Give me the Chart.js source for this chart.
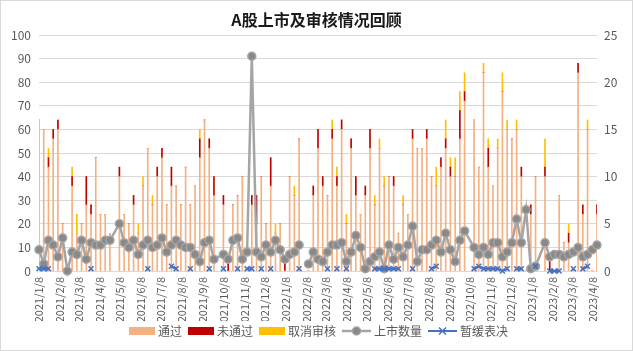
<!DOCTYPE html>
<html>
<head>
<meta charset="utf-8">
<script src="https://cdn.jsdelivr.net/npm/chart.js@4.4.0/dist/chart.umd.min.js"></script>
<style>
  html, body { margin: 0; padding: 0; background: #fff; }
</style>
</head>
<body>
<canvas id="c" width="633" height="351"></canvas>
<script>
// weekly rows (holiday weeks that have no row are simply missing)
const weeks = [
  '2021/1/8','2021/1/15','2021/1/22','2021/1/29','2021/2/5','2021/2/12','2021/2/19','2021/2/26',
  '2021/3/5','2021/3/12','2021/3/19','2021/3/26','2021/4/2','2021/4/9','2021/4/16','2021/4/23',
  '2021/5/7','2021/5/14','2021/5/21','2021/5/28','2021/6/4','2021/6/11','2021/6/18','2021/6/25',
  '2021/7/2','2021/7/9','2021/7/16','2021/7/23','2021/7/30','2021/8/6','2021/8/13','2021/8/20','2021/8/27',
  '2021/9/3','2021/9/10','2021/9/17','2021/9/24',
  '2021/10/8','2021/10/15','2021/10/22','2021/10/29','2021/11/5','2021/11/12','2021/11/19','2021/11/26',
  '2021/12/3','2021/12/10','2021/12/17','2021/12/24','2021/12/31',
  '2022/1/7','2022/1/14','2022/1/21','2022/1/28','2022/2/4','2022/2/11','2022/2/18','2022/2/25',
  '2022/3/4','2022/3/11','2022/3/18','2022/3/25','2022/4/1','2022/4/8','2022/4/15','2022/4/22','2022/4/29',
  '2022/5/6','2022/5/13','2022/5/20','2022/5/27','2022/6/3','2022/6/10','2022/6/17','2022/6/24',
  '2022/7/1','2022/7/8','2022/7/15','2022/7/22','2022/7/29','2022/8/5','2022/8/12','2022/8/19','2022/8/26',
  '2022/9/2','2022/9/9','2022/9/16','2022/9/23','2022/9/30',
  '2022/10/14','2022/10/21','2022/10/28','2022/11/4','2022/11/11','2022/11/18','2022/11/25',
  '2022/12/2','2022/12/9','2022/12/16','2022/12/23','2022/12/30',
  '2023/1/6','2023/1/13','2023/1/27','2023/2/3','2023/2/10','2023/2/17','2023/2/24',
  '2023/3/3','2023/3/10','2023/3/17','2023/3/24','2023/3/31','2023/4/7','2023/4/14'
];

const passed = [
  16,15,11,14,15,5,0,9,4,5,7,6,12,6,6,4,
  10,6,5,7,4,9,13,7,10,12,7,9,9,7,11,7,9,12,16,13,8,
  7,0,7,8,10,0,7,5,10,5,9,4,5,
  0,10,8,14,null,0,8,13,9,8,14,9,15,5,13,8,6,8,13,7,13,9,10,9,4,7,6,14,13,13,14,10,9,11,13,10,10,14,18,
  16,11,21,11,9,13,19,15,14,15,10,0,
  6,10,10,0,0,8,3,3,0,21,6,15,0,6
];

const rejected = [
  0,0,1,1,1,0,0,1,0,0,3,1,0,0,0,0,
  1,0,0,1,0,0,0,0,1,1,0,2,0,0,0,0,0,2,0,1,2,
  1,1,0,0,0,0,1,3,0,0,3,0,0,
  1,0,0,0,null,0,1,2,1,0,1,1,1,0,1,2,0,1,2,0,0,0,0,1,0,0,0,1,0,0,1,0,0,1,1,1,0,3,1,
  0,0,0,2,0,0,0,0,0,0,1,0,
  1,0,1,1,0,0,0,1,0,1,1,0,0,1
];

const cancelled = [
  0,0,1,0,0,0,0,1,2,0,0,0,0,0,0,0,
  0,0,0,0,1,1,0,1,0,0,0,0,0,0,0,0,0,1,0,0,0,
  0,0,0,0,0,0,0,0,0,0,0,1,0,
  0,0,1,0,null,0,0,0,0,0,1,1,0,1,0,0,0,0,0,1,1,1,0,0,0,1,0,0,0,0,0,0,2,0,2,1,2,2,2,
  0,0,1,1,0,1,2,1,0,1,0,0,
  0,0,3,0,0,0,0,1,0,0,0,1,0,0
];

const listed = [
  9,3,13,11,6,14,0,8,7,13,5,12,11,11,13,13,
  20,12,10,13,7,11,13,10,11,14,8,11,13,11,10,10,7,4,12,13,5,
  7,5,13,14,5,8,91,8,6,11,8,13,9,
  5,7,8,11,null,3,8,5,4,8,11,11,12,4,8,15,10,1,4,6,8,1,11,5,10,6,11,19,4,9,9,11,13,8,16,9,4,13,17,
  10,7,10,7,12,12,6,8,12,22,12,26,
  1,2,12,6,7,7,6,7,8,10,6,7,9,11
];

const postponed = [
  1,1,1,null,null,null,null,null,null,null,null,1,null,null,null,null,
  null,null,null,null,null,null,1,null,null,null,null,2,1,null,null,1,null,null,null,1,null,
  1,null,null,1,null,1,1,null,1,null,1,null,null,
  null,null,null,1,null,null,null,null,null,1,null,1,null,1,null,null,null,null,null,1,1,1,1,1,1,null,null,1,null,null,null,1,2,null,null,null,null,null,null,
  1,2,1,1,1,1,0,1,null,1,1,null,
  null,2,null,0,0,0,null,null,1,null,1,2,null,null
];

const tickLabels = [
  '2021/1/8','2021/2/8','2021/3/8','2021/4/8','2021/5/8','2021/6/8','2021/7/8','2021/8/8','2021/9/8',
  '2021/10/8','2021/11/8','2021/12/8','2022/1/8','2022/2/8','2022/3/8','2022/4/8','2022/5/8','2022/6/8',
  '2022/7/8','2022/8/8','2022/9/8','2022/10/8','2022/11/8','2022/12/8','2023/1/8','2023/2/8','2023/3/8','2023/4/8'
];

const FONT = '"Noto Sans CJK SC", "Noto Sans", sans-serif';
const base = Date.UTC(2021, 0, 8);
function dayOf(s) {
  const [y, m, d] = s.split('/').map(Number);
  return (Date.UTC(y, m - 1, d) - base) / 86400000;
}
const xs = weeks.map(dayOf);
const tickDays = tickLabels.map(dayOf);
const pts = arr => arr.map((v, i) => ({ x: xs[i], y: v }));

// title, legend and outer frame
const decor = {
  id: 'decor',
  afterDraw(chart) {
    const ctx = chart.ctx;
    ctx.save();
    ctx.strokeStyle = '#d9d9d9';
    ctx.lineWidth = 1;
    ctx.strokeRect(0.5, 0.5, chart.width - 1, chart.height - 1);

    ctx.fillStyle = '#1a1a1a';
    ctx.font = 'bold 16px ' + FONT;
    ctx.textAlign = 'center';
    ctx.textBaseline = 'middle';
    ctx.fillText('A股上市及审核情况回顾', 316.5, 20);

    ctx.font = '12px ' + FONT;
    ctx.textAlign = 'left';
    const items = chart.data.datasets.map(ds => ({
      label: ds.label,
      line: ds.type === 'line',
      color: ds.type === 'line' ? ds.borderColor : ds.backgroundColor,
      ds
    }));
    const sw = it => it.line ? 29 : 26;
    let total = 0;
    items.forEach((it, i) => {
      total += sw(it) + 3 + ctx.measureText(it.label).width + (i < items.length - 1 ? 6 : 0);
    });
    let x = Math.round((chart.width - total) / 2) + 2;
    const y = 331;
    items.forEach(it => {
      const w = sw(it);
      if (!it.line) {
        ctx.fillStyle = it.color;
        ctx.fillRect(x, y - 4, w, 8);
      } else {
        ctx.strokeStyle = it.color;
        ctx.lineWidth = it.ds.borderWidth;
        ctx.beginPath();
        ctx.moveTo(x, y);
        ctx.lineTo(x + w, y);
        ctx.stroke();
        const cx = x + w / 2;
        if (it.ds.pointStyle === 'crossRot') {
          ctx.lineWidth = 1.5;
          ctx.beginPath();
          ctx.moveTo(cx - 3.5, y - 3.5); ctx.lineTo(cx + 3.5, y + 3.5);
          ctx.moveTo(cx + 3.5, y - 3.5); ctx.lineTo(cx - 3.5, y + 3.5);
          ctx.stroke();
        } else {
          ctx.fillStyle = it.ds.pointBackgroundColor;
          ctx.strokeStyle = it.ds.pointBorderColor;
          ctx.lineWidth = 1.5;
          ctx.beginPath();
          ctx.arc(cx, y, 4, 0, Math.PI * 2);
          ctx.fill();
          ctx.stroke();
        }
      }
      x += w + 3;
      ctx.fillStyle = '#595959';
      ctx.fillText(it.label, x, y + 0.5);
      x += ctx.measureText(it.label).width + 6;
    });
    ctx.restore();
  }
};

const tickFont = { family: FONT, size: 12 };

new Chart(document.getElementById('c'), {
  type: 'bar',
  data: {
    datasets: [
      { type: 'bar', label: '通过', data: pts(passed), yAxisID: 'y2', stack: 'review',
        backgroundColor: '#F4B183', barThickness: 1, order: 3 },
      { type: 'bar', label: '未通过', data: pts(rejected), yAxisID: 'y2', stack: 'review',
        backgroundColor: '#C00000', barThickness: 1, order: 3 },
      { type: 'bar', label: '取消审核', data: pts(cancelled), yAxisID: 'y2', stack: 'review',
        backgroundColor: '#FFC000', barThickness: 1, order: 3 },
      { type: 'line', label: '上市数量', data: pts(listed), yAxisID: 'y',
        borderColor: '#A5A5A5', borderWidth: 2.5, pointRadius: 4,
        pointBackgroundColor: '#898989', pointBorderColor: '#A5A5A5', pointBorderWidth: 1.5,
        spanGaps: false, clip: false, order: 2 },
      { type: 'line', label: '暂缓表决', data: pts(postponed), yAxisID: 'y',
        borderColor: '#4472C4', borderWidth: 2, pointStyle: 'crossRot', pointRadius: 3.5,
        pointBorderColor: '#4472C4', pointBorderWidth: 1.5,
        spanGaps: false, clip: false, order: 1 }
    ]
  },
  options: {
    responsive: false,
    animation: false,
    devicePixelRatio: 1,
    layout: { padding: { top: 35, bottom: 30, left: 0, right: 0 } },
    plugins: {
      legend: { display: false },
      title: { display: false },
      tooltip: { enabled: false }
    },
    scales: {
      x: {
        type: 'linear', min: 0, max: 826, offset: false, stacked: true,
        grid: { display: false, offset: false, drawTicks: false },
        border: { display: false },
        afterBuildTicks: s => { s.ticks = tickDays.map(v => ({ value: v })); },
        afterFit: s => { s.height = 50; },
        ticks: {
          autoSkip: false, minRotation: 90, maxRotation: 90, padding: 6,
          color: '#595959', font: { family: FONT, size: 11 },
          callback: (v, i) => tickLabels[i]
        }
      },
      y: {
        position: 'left', min: 0, max: 100,
        grid: { color: '#d9d9d9', drawTicks: false },
        border: { display: false },
        afterFit: s => { s.width = 39; },
        ticks: { stepSize: 10, padding: 8, color: '#595959', font: tickFont }
      },
      y2: {
        position: 'right', min: 0, max: 25, stacked: true,
        grid: { display: false, drawTicks: false },
        border: { display: false },
        afterFit: s => { s.width = 36; },
        ticks: { stepSize: 5, padding: 7, color: '#595959', font: tickFont }
      }
    }
  },
  plugins: [decor]
});
</script>
</body>
</html>
